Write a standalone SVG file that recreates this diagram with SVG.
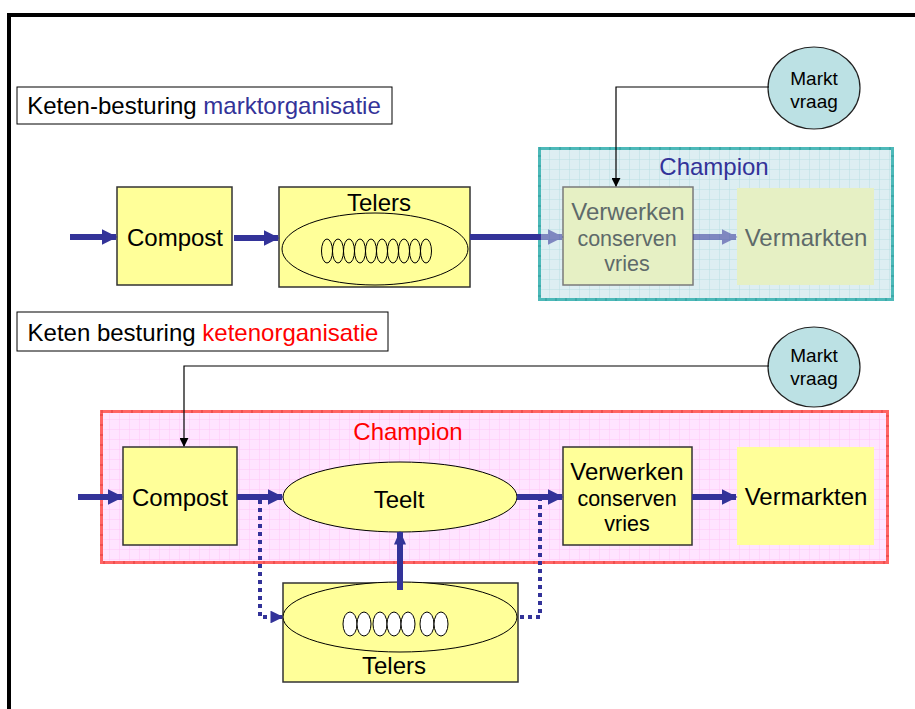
<svg xmlns="http://www.w3.org/2000/svg" width="915" height="709" viewBox="0 0 915 709">
  <defs>
    <style>
      text { font-family: "Liberation Sans", Arial, sans-serif; text-anchor: middle; }
      .box { fill: #FFFF99; stroke: #333333; stroke-width: 1.5; }
      .lbl { font-size: 24px; fill: #000; }
      .big { font-size: 24px; }
      .sub { font-size: 21.5px; }
      .flow { stroke: #333399; stroke-width: 6; fill: none; }
      .dot { stroke: #333399; stroke-width: 4; fill: none; stroke-dasharray: 4 4; }
      .ctl { stroke: #000; stroke-width: 1.2; fill: none; }
      .mv { fill: #BCE1E4; stroke: #222; stroke-width: 1.2; }
      .mvt { font-size: 19px; fill: #000; }
      .faded { fill: #5E6A6A; }
    </style>
    <marker id="ah" viewBox="0 0 10 10" refX="9" refY="5" markerWidth="2.6" markerHeight="2.6" orient="auto" markerUnits="strokeWidth">
      <path d="M0,0 L10,5 L0,10 z" fill="#333399"/>
    </marker>
    <marker id="ahd" viewBox="0 0 10 10" refX="9" refY="5" markerWidth="3.2" markerHeight="3.2" orient="auto" markerUnits="strokeWidth">
      <path d="M0,0 L10,5 L0,10 z" fill="#333399"/>
    </marker>
    <marker id="ahu" viewBox="0 0 10 10" refX="9" refY="5" markerWidth="14" markerHeight="12" orient="auto" markerUnits="userSpaceOnUse" preserveAspectRatio="none">
      <path d="M0,0 L10,5 L0,10 z" fill="#333399"/>
    </marker>
    <marker id="ahk" viewBox="0 0 10 10" refX="9" refY="5" markerWidth="9" markerHeight="9" orient="auto" markerUnits="userSpaceOnUse">
      <path d="M0,0 L10,5 L0,10 z" fill="#000"/>
    </marker>
    <pattern id="gridTeal" width="10" height="10" patternUnits="userSpaceOnUse">
      <rect width="10" height="10" fill="#DDEEF2"/>
      <path d="M10,0 V10 M0,10 H10" stroke="#BADFE3" stroke-width="1"/>
    </pattern>
    <pattern id="gridPink" width="10" height="10" patternUnits="userSpaceOnUse">
      <rect width="10" height="10" fill="#FFE4FF"/>
      <path d="M10,0 V10 M0,10 H10" stroke="#FFC6F8" stroke-width="1"/>
    </pattern>
  </defs>

  <rect width="915" height="709" fill="#fff"/>

  <!-- outer frame: top and left edge only -->
  <path d="M9,709 V15 H915" stroke="#000" stroke-width="4" fill="none"/>

  <!-- section headers -->
  <g id="header-markt">
    <rect x="17" y="87" width="375" height="37" fill="#fff" stroke="#000" stroke-width="1"/>
    <text x="204" y="114" class="big"><tspan fill="#000">Keten-besturing </tspan><tspan fill="#333399">marktorganisatie</tspan></text>
  </g>
  <g id="header-keten">
    <rect x="17" y="312" width="371" height="39" fill="#fff" stroke="#000" stroke-width="1"/>
    <text x="203" y="341" class="big"><tspan fill="#000">Keten besturing </tspan><tspan fill="#FF0000">ketenorganisatie</tspan></text>
  </g>

  <!-- ===== upper chain: market organisation ===== -->
  <g id="champion-top">
    <rect x="539.5" y="148.5" width="353" height="151" fill="url(#gridTeal)" stroke="#4DB9B9" stroke-width="3"/>
    <rect x="539.5" y="148.5" width="353" height="151" fill="none" stroke="#2E9A9A" stroke-width="3" stroke-dasharray="1 9"/>
    <text x="714" y="175" class="big" fill="#333399">Champion</text>
  </g>

  <g id="compost-top">
    <rect class="box" x="117" y="187" width="115" height="98"/>
    <text class="lbl" x="175" y="246">Compost</text>
  </g>

  <g id="telers-top">
    <rect class="box" x="279" y="187" width="191" height="100"/>
    <text class="lbl" x="379" y="211">Telers</text>
    <ellipse cx="375" cy="249" rx="93" ry="36" fill="#FFFF99" stroke="#000" stroke-width="1"/>
    <g fill="none" stroke="#000" stroke-width="1">
      <ellipse cx="327" cy="251" rx="5.5" ry="12"/>
      <ellipse cx="338" cy="251" rx="5.5" ry="12"/>
      <ellipse cx="349" cy="251" rx="5.5" ry="12"/>
      <ellipse cx="360" cy="251" rx="5.5" ry="12"/>
      <ellipse cx="371" cy="251" rx="5.5" ry="12"/>
      <ellipse cx="382" cy="251" rx="5.5" ry="12"/>
      <ellipse cx="393" cy="251" rx="5.5" ry="12"/>
      <ellipse cx="404" cy="251" rx="5.5" ry="12"/>
      <ellipse cx="415" cy="251" rx="5.5" ry="12"/>
      <ellipse cx="426" cy="251" rx="5.5" ry="12"/>
    </g>
  </g>

  <g id="verwerken-top">
    <rect x="563" y="187" width="130" height="98" fill="#E6F0C4" stroke="#7A7A7A" stroke-width="1.5"/>
    <text x="628" y="220" class="big faded">Verwerken</text>
    <text x="627" y="246" class="sub faded">conserven</text>
    <text x="627" y="271" class="sub faded">vries</text>
  </g>

  <g id="vermarkten-top">
    <rect x="737" y="188" width="137" height="97" fill="#E6F0C4"/>
    <text x="806" y="246" class="big faded">Vermarkten</text>
  </g>

  <g id="marktvraag-top">
    <ellipse class="mv" cx="814" cy="88" rx="46" ry="41"/>
    <text class="mvt" x="814" y="85">Markt</text>
    <text class="mvt" x="814" y="108">vraag</text>
  </g>

  <!-- ===== lower chain: chain organisation ===== -->
  <g id="champion-bottom">
    <rect x="101.5" y="411.5" width="786" height="151" fill="url(#gridPink)" stroke="#FF6464" stroke-width="3"/>
    <rect x="101.5" y="411.5" width="786" height="151" fill="none" stroke="#E03A3A" stroke-width="3" stroke-dasharray="1 9"/>
    <text x="408" y="440" class="big" fill="#FF0000">Champion</text>
  </g>

  <g id="compost-bottom">
    <rect class="box" x="123" y="447" width="114" height="98"/>
    <text class="lbl" x="180" y="506">Compost</text>
  </g>

  <g id="teelt">
    <ellipse cx="400" cy="497" rx="117" ry="35" fill="#FFFF99" stroke="#000" stroke-width="1"/>
    <text class="lbl" x="399" y="508">Teelt</text>
  </g>

  <g id="verwerken-bottom">
    <rect class="box" x="563" y="447" width="129" height="98"/>
    <text x="627" y="480" class="big" fill="#000">Verwerken</text>
    <text x="627" y="506" class="sub" fill="#000">conserven</text>
    <text x="627" y="531" class="sub" fill="#000">vries</text>
  </g>

  <g id="vermarkten-bottom">
    <rect x="737" y="447" width="137" height="98" fill="#FFFF99"/>
    <text x="806" y="505" class="big" fill="#000">Vermarkten</text>
  </g>

  <g id="telers-bottom">
    <rect class="box" x="283" y="583" width="235" height="99"/>
    <ellipse cx="400" cy="617" rx="117" ry="35" fill="#FFFF99" stroke="#000" stroke-width="1"/>
    <g fill="#fff" stroke="#000" stroke-width="1">
      <ellipse cx="350" cy="624" rx="7" ry="12"/>
      <ellipse cx="364" cy="624" rx="7" ry="12"/>
      <ellipse cx="380" cy="624" rx="7" ry="12"/>
      <ellipse cx="394" cy="624" rx="7" ry="12"/>
      <ellipse cx="408" cy="624" rx="7" ry="12"/>
      <ellipse cx="427" cy="624" rx="7" ry="12"/>
      <ellipse cx="441" cy="624" rx="7" ry="12"/>
    </g>
    <text class="lbl" x="394" y="674">Telers</text>
  </g>

  <g id="marktvraag-bottom">
    <ellipse class="mv" cx="814" cy="367" rx="46" ry="40"/>
    <text class="mvt" x="814" y="362">Markt</text>
    <text class="mvt" x="814" y="385">vraag</text>
  </g>

  <!-- ===== connectors ===== -->
  <g id="connectors">
    <!-- upper chain -->
    <line class="flow" x1="70" y1="237" x2="116" y2="237" marker-end="url(#ah)"/>
    <line class="flow" x1="234" y1="238" x2="278" y2="238" marker-end="url(#ah)"/>
    <line class="flow" x1="470" y1="237" x2="541" y2="237"/>
    <line class="flow" x1="540" y1="237" x2="562" y2="237" marker-end="url(#ah)" opacity="0.55"/>
    <line class="flow" x1="693" y1="237" x2="736" y2="237" marker-end="url(#ah)" opacity="0.55"/>
    <polyline class="ctl" points="769,87 616,87 616,186" marker-end="url(#ahk)"/>

    <!-- lower chain -->
    <line class="flow" x1="78" y1="497" x2="122" y2="497" marker-end="url(#ah)"/>
    <line class="flow" x1="237" y1="497" x2="282" y2="497" marker-end="url(#ah)"/>
    <line class="flow" x1="517" y1="497" x2="562" y2="497" marker-end="url(#ah)"/>
    <line class="flow" x1="692" y1="497" x2="736" y2="497" marker-end="url(#ah)"/>
    <line class="flow" x1="400" y1="590" x2="400" y2="532" stroke-width="3.5" marker-end="url(#ahu)"/>
    <polyline class="dot" points="260,500 260,617 282,617" marker-end="url(#ahd)"/>
    <polyline class="dot" points="520,617 540,617 540,500"/>
    <polyline class="ctl" points="769,366 184,366 184,446" marker-end="url(#ahk)"/>
  </g>
</svg>
